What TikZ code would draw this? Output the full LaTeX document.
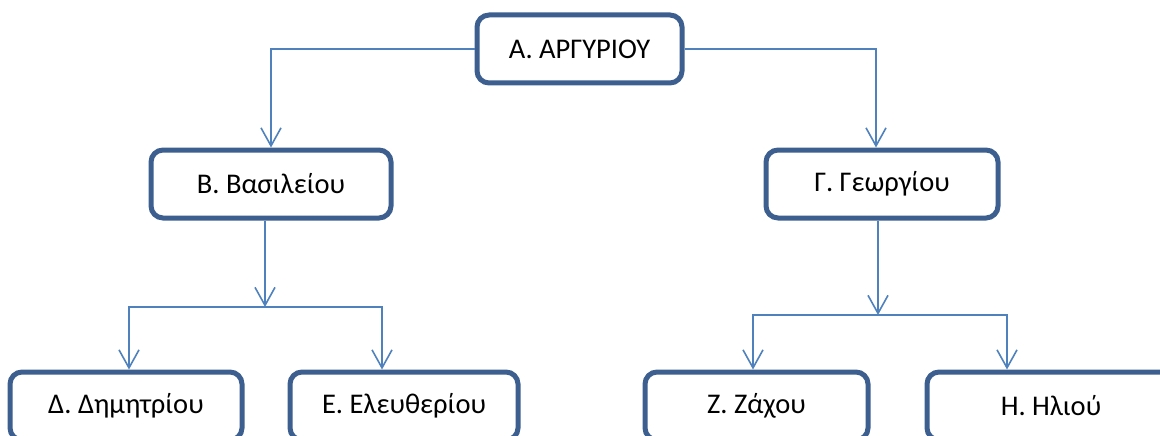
\documentclass[tikz,border=0pt]{standalone}
\usepackage{fontspec}
\setmainfont{Carlito}
\usepackage{tikz}
\usetikzlibrary{arrows, arrows.meta, positioning}
\usepackage{xcolor}
\definecolor{boxblue}{HTML}{3C5F8F}
\definecolor{linkblue}{HTML}{4F81BD}

\begin{document}
\begin{tikzpicture}[x=1pt,y=-1pt,on grid,font=\fontsize{28.5}{32}\selectfont]
    \tikzstyle{person}=[shape=rectangle,draw=boxblue,line width=5pt,rounded corners=12pt,fill=white,inner sep=0pt,minimum height=68pt]
    \tikzstyle{link}=[draw=linkblue,line width=2pt,-{Straight Barb[length=18pt,width=20pt,line width=1.6pt]}]

    \useasboundingbox (0,0) rectangle (1160,436);

    \node[person,minimum width=205pt] (A) at (579.5,49) {Α. ΑΡΓΥΡΙΟΥ};
    \node[person,minimum width=240pt,below left=135pt and 308.5pt of A] (B) {Β. Βασιλείου};
    \node[person,minimum width=232pt,below right=135pt and 302.5pt of A] (G) {Γ. Γεωργίου};
    \node[person,minimum width=232pt,below left=222pt and 145pt of B] (D) {Δ. Δημητρίου};
    \node[person,minimum width=228pt,below right=222pt and 133pt of B] (E) {Ε. Ελευθερίου};
    \node[person,minimum width=223pt,below left=222pt and 125.5pt of G] (Z) {Ζ. Ζάχου};
    \node[person,minimum width=248pt,below right=222pt and 169pt of G] (H) {Η. Ηλιού};

    % junctions below the two middle boxes
    \coordinate (bj) at ([xshift=-6pt]B.south |- 0,307);
    \coordinate (gj) at ([xshift=-4pt]G.south |- 0,315);

    \draw[link] (A.west) -| (B.north);
    \draw[link] (A.east) -| ([xshift=-6pt]G.north);

    \draw[link] ([xshift=-6pt]B.south) -- (bj);
    \draw[link] (bj) -| ([xshift=3pt]D.north);
    \draw[link] (bj) -| ([xshift=-22pt]E.north);

    \draw[link] ([xshift=-4pt]G.south) -- (gj);
    \draw[link] (gj) -| ([xshift=-3.5pt]Z.north);
    \draw[link] (gj) -| ([xshift=-44pt]H.north);
\end{tikzpicture}
\end{document}
